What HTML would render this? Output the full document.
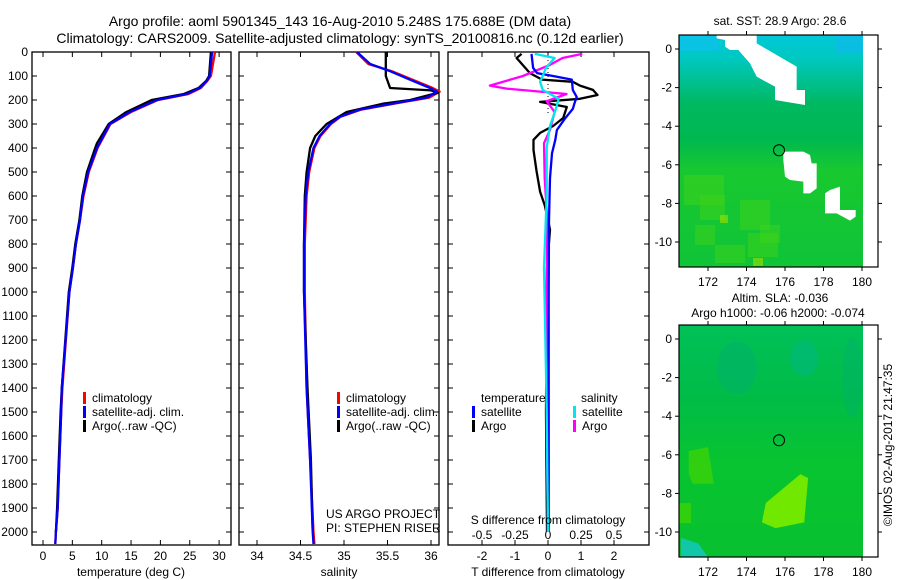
<!DOCTYPE html>
<html><head><meta charset="utf-8"><style>
html,body{margin:0;padding:0;background:#fff}
svg{display:block;font-family:"Liberation Sans",sans-serif}
text{fill:#000}
</style></head><body>
<svg id="fig" width="900" height="580" viewBox="0 0 900 580">
<text x="340" y="26" font-size="14" text-anchor="middle">Argo profile: aoml 5901345_143 16-Aug-2010 5.248S 175.688E (DM data)</text>
<text x="340" y="43" font-size="14" text-anchor="middle">Climatology: CARS2009. Satellite-adjusted climatology: synTS_20100816.nc (0.12d earlier)</text>
<g id="p1"></g>
<g id="p2"></g>
<g id="p3"></g>
<g id="m1"></g>
<g id="m2"></g>
<text x="0" y="0" font-size="12" text-anchor="middle" transform="translate(892,445) rotate(-90)">©IMOS 02-Aug-2017 21:47:35</text>
</svg>
<script>
// ---- data ----
const tDepth = [0,100,120,150,175,200,250,300,400,500,600,700,800,900,1000,1400,1500,1700,1900,2000,2050];
const tClim  = [29.3,28.6,28.0,26.9,24.8,19.6,15.0,11.5,9.3,7.8,6.9,6.3,5.6,5.1,4.5,3.3,3.1,2.8,2.5,2.2,2.1];
const tSat   = [28.8,28.4,27.9,26.7,24.5,19.4,14.8,11.4,9.2,7.7,6.8,6.3,5.6,5.1,4.5,3.2,3.1,2.8,2.5,2.2,2.1];
const aTDepth= [0,100,120,150,175,200,250,300,380,400,500,600,700,800,900,1000,1400,1500,1700,1900,2000];
const tArgo  = [28.6,28.3,27.8,26.5,24.0,18.5,14.2,11.2,9.2,8.9,7.5,6.7,6.2,5.5,5.0,4.4,3.2,3.0,2.7,2.4,2.2];
const sDepth = [0,50,80,120,150,165,190,210,240,270,300,350,400,500,600,800,1000,1400,1700,2000,2050];
const sClim  = [35.14,35.28,35.55,35.82,36.02,36.1,35.98,35.66,35.2,34.96,34.85,34.73,34.66,34.6,34.57,34.55,34.55,34.57,34.61,34.65,34.66];
const sSat   = [35.15,35.30,35.53,35.79,35.99,36.07,35.95,35.64,35.18,34.95,34.84,34.72,34.65,34.59,34.56,34.54,34.54,34.57,34.61,34.64,34.65];
const aSDepth= [0,100,150,160,170,200,215,250,300,350,400,500,600,800,1000,1400,1700,2000];
const sArgo  = [35.48,35.48,35.53,36.0,36.08,35.76,35.45,35.03,34.8,34.67,34.61,34.57,34.55,34.54,34.54,34.58,34.62,34.64];
const dDepthTA = [8,25,88,115,124,140,158,179,195,208,229,275,308,337,366,408,495,582,638,700,740,900,1200,1500,2000];
const dTArgo   = [-0.8,-0.95,-0.55,-0.18,0.75,0.97,1.36,1.5,0.97,-0.24,0.57,0.46,0.16,-0.24,-0.44,-0.44,-0.35,-0.24,-0.1,0,0.06,-0.03,-0.05,-0.06,-0.03];
const dDepthTS = [8,66,88,100,115,158,187,215,237,280,325,366,422,525,700,1000,1500,2000];
const dTSat    = [-0.5,-0.45,-0.33,0.15,0.72,0.75,0.87,0.8,0.75,0.5,0.27,0.22,0.12,0.06,0.03,0.02,0.02,0.02];
const dDepthSS = [8,25,66,100,124,158,195,237,308,400,600,900,1200,1500,2000];
const dSSat    = [-0.1,0.05,-0.015,-0.04,-0.06,-0.04,0.08,0.06,0.015,-0.01,-0.01,-0.03,-0.02,-0.01,0];
const dDepthSA = [8,25,55,100,140,153,175,205,250,325,380,525,700,1000,1500,2000];
const dSArgo   = [0.26,0.11,0.01,-0.19,-0.44,-0.31,0.14,-0.01,0.05,0.015,-0.03,-0.025,-0.005,-0.01,-0.01,0];
const depthTicks = [0,100,200,300,400,500,600,700,800,900,1000,1100,1200,1300,1400,1500,1600,1700,1800,1900,2000];
const tTicks = [0,5,10,15,20,25,30];
const sTicks = [34,34.5,35,35.5,36];
const dTTicks = [-2,-1,0,1,2];
const dSTicks = [-0.5,-0.25,0,0.25,0.5];
const lonTicks = [172,174,176,178,180];
const latTicks = [0,-2,-4,-6,-8,-10];

const NS="http://www.w3.org/2000/svg";
function el(tag,attrs,parent,txt){const e=document.createElementNS(NS,tag);for(const k in attrs)e.setAttribute(k,attrs[k]);if(txt!==undefined)e.textContent=txt;parent.appendChild(e);return e;}
const yD = d => 52 + d*0.24;
const xT = t => 43 + t*5.87;
const xS = s => 257 + (s-34)*87;
const xDT = v => 548 + v*33;
const xDS = v => 548 + v*132;
const TOP=52,BOT=545;

function frame(g,x0,x1){
  const r=el('rect',{x:x0,y:TOP,width:x1-x0,height:BOT-TOP,fill:'none',stroke:'#000','stroke-width':1.3},g);
  
  
  depthTicks.forEach(d=>{
    const y=yD(d);
    el('line',{x1:x0,x2:x0+5,y1:y,y2:y,stroke:'#000'},g);
    el('line',{x1:x1,x2:x1-5,y1:y,y2:y,stroke:'#000'},g);
  });
}
function xticks(g,vals,fx,labels,ly){
  vals.forEach(v=>{
    const x=fx(v);
    el('line',{x1:x,x2:x,y1:BOT,y2:BOT-5,stroke:'#000'},g);
    el('line',{x1:x,x2:x,y1:TOP,y2:TOP+5,stroke:'#000'},g);
    if(labels){const t=el('text',{x:x,y:ly,'font-size':12,'text-anchor':'middle'},g,String(v));
      
      }
  });
}
function line(g,xs,ds,fx,color,name){
  const pts=xs.map((v,i)=>fx(v).toFixed(1)+','+yD(ds[i]).toFixed(1)).join(' ');
  const p=el('polyline',{points:pts,fill:'none',stroke:color,'stroke-width':2.3,'stroke-linejoin':'round'},g);
  
  
}
function legendEntry(g,x,y,color,label){
  el('rect',{x:x,y:y-10,width:3,height:12,fill:color},g);
  const t=el('text',{x:x+9,y:y,'font-size':12},g,label);
  
  
}

// Panel 1
const p1=document.getElementById('p1');
frame(p1,32,231);
depthTicks.forEach(d=>{const t=el('text',{x:28,y:yD(d)+4,'font-size':12,'text-anchor':'end'},p1,String(d));
  
  });
xticks(p1,tTicks,xT,true,560);
line(p1,tClim,tDepth,xT,'#ff0000','temp-climatology-line');
line(p1,tArgo,aTDepth,xT,'#000000','temp-argo-line');
line(p1,tSat,tDepth,xT,'#0000ff','temp-satellite-line');
legendEntry(p1,83,402,'#ff0000','climatology');
legendEntry(p1,83,416,'#0000ff','satellite-adj. clim.');
legendEntry(p1,83,430,'#000000','Argo(..raw -QC)');
let t1=el('text',{x:131,y:576,'font-size':12,'text-anchor':'middle'},p1,'temperature (deg C)');



// Panel 2
const p2=document.getElementById('p2');
frame(p2,239,439);
xticks(p2,sTicks,xS,true,560);
line(p2,sClim,sDepth,xS,'#ff0000','sal-climatology-line');
line(p2,sArgo,aSDepth,xS,'#000000','sal-argo-line');
line(p2,sSat,sDepth,xS,'#0000ff','sal-satellite-line');
legendEntry(p2,337,402,'#ff0000','climatology');
legendEntry(p2,337,416,'#0000ff','satellite-adj. clim.');
legendEntry(p2,337,430,'#000000','Argo(..raw -QC)');
el('text',{x:326,y:518,'font-size':12},p2,'US ARGO PROJECT');
el('text',{x:326,y:532,'font-size':12},p2,'PI: STEPHEN RISER');
let t2=el('text',{x:339,y:576,'font-size':12,'text-anchor':'middle'},p2,'salinity');



// Panel 3
const p3=document.getElementById('p3');
frame(p3,448,649);
xticks(p3,dTTicks,xDT,true,560);
dSTicks.forEach(v=>{const t=el('text',{x:xDS(v),y:539,'font-size':12,'text-anchor':'middle'},p3,String(v));
  
  });
el('line',{x1:xDT(0),x2:xDT(0),y1:TOP,y2:yD(260),stroke:'#000','stroke-dasharray':'1,3'},p3);
line(p3,dTArgo,dDepthTA,xDT,'#000000','tdiff-argo-line');
line(p3,dSArgo,dDepthSA,xDS,'#ff00ff','sdiff-argo-line');
line(p3,dTSat,dDepthTS,xDT,'#0000ff','tdiff-satellite-line');
line(p3,dSSat,dDepthSS,xDS,'#00e5ee','sdiff-satellite-line');
el('text',{x:481,y:402,'font-size':12},p3,'temperature');
el('text',{x:581,y:402,'font-size':12},p3,'salinity');
legendEntry(p3,472,416,'#0000ff','satellite');
legendEntry(p3,472,430,'#000000','Argo');
legendEntry(p3,573,416,'#00e5ee','satellite');
legendEntry(p3,573,430,'#ff00ff','Argo');
el('text',{x:548,y:524,'font-size':12,'text-anchor':'middle'},p3,'S difference from climatology');
let t3=el('text',{x:548,y:576,'font-size':12,'text-anchor':'middle'},p3,'T difference from climatology');



// Maps
const lonX = lon => 708 + (lon-172)*19.25;
function map(g,top,lat0y,kind){
  const latY = lat => lat0y - lat*19.3;
  const defs=el('defs',{},g);
  const gr=el('linearGradient',{id:'g'+kind,x1:0,y1:0,x2:0,y2:1},defs);
  const stops = kind==1 ? [[0,'#00c8d8'],[0.1,'#00c8c0'],[0.2,'#00c090'],[0.3,'#00b860'],[0.45,'#00b850'],[0.58,'#18c830'],[1,'#10c438']]
                        : [[0,'#00c058'],[0.3,'#00bc48'],[0.6,'#08c430'],[1,'#08c030']];
  stops.forEach(s=>el('stop',{offset:s[0],'stop-color':s[1]},gr));
  el('rect',{x:679,y:top,width:184,height:232,fill:'url(#g'+kind+')'},g);
  if(kind==1){
    el('rect',{x:679,y:top,width:40,height:16,fill:'#10c0f0',opacity:0.6},g);
    el('rect',{x:835,y:top,width:28,height:18,fill:'#10b8f0',opacity:0.6},g);
    [[684,175,40,30],[700,195,25,25],[695,225,20,20],[740,200,30,30],[748,233,30,24],[715,245,30,18],[760,225,20,18]].forEach(r=>
      el('rect',{x:r[0],y:r[1],width:r[2],height:r[3],fill:'#40d418',opacity:0.5},g));
    [[720,215,8,8],[753,258,10,8]].forEach(r=>el('rect',{x:r[0],y:r[1],width:r[2],height:r[3],fill:'#a0e000',opacity:0.6},g));
    const isl=[[[200,106],[320,106],[320,130],[440,200],[440,270],[465,270],[465,315],[375,300],[375,260],[320,230],[300,190],[265,150],[240,150],[225,140],[225,120],[200,115]],
      [[400,455],[460,455],[480,465],[485,490],[500,490],[500,565],[480,580],[460,580],[460,545],[420,540],[405,530],[400,480]],
      [[525,580],[540,570],[570,560],[570,630],[617,630],[617,650],[600,662],[560,640],[525,640]]];
    isl.forEach(p=>{const e=el('polygon',{points:p.map(q=>(650+q[0]/3)+','+(q[1]/3)).join(' '),fill:'#fff'},g);
      
      });
  } else {
    el('ellipse',{cx:lonX(173.5),cy:latY(-1.5),rx:20,ry:26,fill:'#00b070',opacity:0.5},g);
    el('ellipse',{cx:lonX(177),cy:latY(-1),rx:14,ry:18,fill:'#00b880',opacity:0.6},g);
    el('ellipse',{cx:lonX(179.5),cy:latY(-2),rx:10,ry:40,fill:'#00b070',opacity:0.4},g);
    el('polygon',{points:`${lonX(171)},${latY(-5.8)} ${lonX(172)},${latY(-5.6)} ${lonX(172.3)},${latY(-7.5)} ${lonX(171.2)},${latY(-7.5)} ${lonX(171)},${latY(-7)}`,fill:'#30d010'},g);
    el('polygon',{points:`${lonX(176.8)},${latY(-7)} ${lonX(177.2)},${latY(-7.2)} ${lonX(177)},${latY(-9.5)} ${lonX(175.5)},${latY(-9.8)} ${lonX(174.8)},${latY(-9.5)} ${lonX(175)},${latY(-8.5)}`,fill:'#70e800'},g);
    el('polygon',{points:`${lonX(170.6)},${latY(-10.3)} ${lonX(171.5)},${latY(-10.6)} ${lonX(172)},${latY(-11.3)} ${lonX(170.6)},${latY(-11.3)}`,fill:'#10c8a8'},g);
    el('rect',{x:679,y:latY(-8.5),width:12,height:20,fill:'#30d010'},g);
  }
  el('rect',{x:863,y:top,width:15,height:232,fill:'#fff'},g);
  const f=el('rect',{x:679,y:top,width:199,height:232,fill:'none',stroke:'#000','stroke-width':1.2},g);
  
  
  el('circle',{cx:lonX(175.688),cy:latY(-5.248),r:5.5,fill:'none',stroke:'#000'},g);
  lonTicks.forEach(l=>{const x=lonX(l);
    el('line',{x1:x,x2:x,y1:top,y2:top-4,stroke:'#000'},g);
    el('line',{x1:x,x2:x,y1:top+232,y2:top+236,stroke:'#000'},g);
    el('text',{x:x,y:top+251,'font-size':12,'text-anchor':'middle'},g,String(l));});
  latTicks.forEach(l=>{const y=latY(l);
    el('line',{x1:679,x2:675,y1:y,y2:y,stroke:'#000'},g);
    el('line',{x1:878,x2:882,y1:y,y2:y,stroke:'#000'},g);
    el('text',{x:672,y:y+4,'font-size':12,'text-anchor':'end'},g,String(l));});
}
const m1=document.getElementById('m1'); map(m1,35,49,1);
el('text',{x:780,y:25,'font-size':12,'text-anchor':'middle'},m1,'sat. SST: 28.9 Argo: 28.6');
const m2=document.getElementById('m2'); map(m2,325,339,2);
el('text',{x:780,y:302,'font-size':12,'text-anchor':'middle'},m2,'Altim. SLA: -0.036');
el('text',{x:778,y:317,'font-size':12,'text-anchor':'middle'},m2,'Argo h1000: -0.06 h2000: -0.074');
</script>
</body></html>
